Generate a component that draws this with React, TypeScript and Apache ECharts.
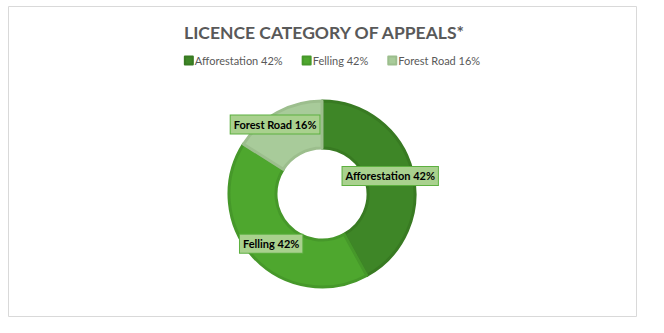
import React, { useEffect, useRef } from "react";
import * as echarts from "echarts";

const categories = ["Afforestation", "Felling", "Forest Road"];
const shares = [42, 42, 16];
const fillColors = ["#3E8627", "#4EA72E", "#A8CB9A"];
const edgeColors = ["#387A22", "#46982A", "#9CBE8D"];
const labelOffsets: [number, number][] = [
  [-2, 0],
  [2, 0],
  [-12, -6],
];

const FONT = "Lato, 'DejaVu Sans Condensed', sans-serif";

export default function App() {
  const ref = useRef<HTMLDivElement>(null);
  useEffect(() => {
    document.body.style.margin = "0";
    const chart = echarts.init(ref.current!, undefined, { renderer: "svg" });
    const data = categories.map((name, i) => ({
      name,
      value: shares[i],
      itemStyle: { color: fillColors[i], borderColor: edgeColors[i], borderWidth: 3 },
      label: { offset: labelOffsets[i] },
    }));
    chart.setOption({
      animation: false,
      backgroundColor: "#ffffff",
      graphic: [
        {
          type: "rect",
          shape: { x: 8.5, y: 6.5, width: 628, height: 310 },
          style: { fill: "none", stroke: "#D9D9D9", lineWidth: 1 },
          silent: true,
        },
      ],
      title: {
        text: "LICENCE CATEGORY OF APPEALS*",
        left: 319,
        textAlign: "center",
        top: 18,
        textStyle: { fontFamily: FONT, fontSize: 17.5, fontWeight: "bold", color: "#595959" },
      },
      legend: {
        top: 50,
        left: "center",
        itemWidth: 8,
        itemHeight: 8,
        itemGap: 19,
        icon: "rect",
        data: categories,
        formatter: (name: string) => `${name} ${shares[categories.indexOf(name)]}%`,
        textStyle: { fontFamily: FONT, fontSize: 11, color: "#595959", padding: [0, 0, 0, -3] },
      },
      series: [
        {
          type: "pie",
          center: [322, 194],
          radius: [46, 93],
          startAngle: 90,
          clockwise: true,
          data,
          label: {
            show: true,
            position: "inside",
            formatter: (p: any) => `${p.name} ${p.value}%`,
            fontFamily: FONT,
            fontSize: 11,
            fontWeight: "bold",
            color: "#000000",
            backgroundColor: "#A9D18E",
            borderColor: "#5DB040",
            borderWidth: 1,
            padding: [4, 3, 3, 3],
          },
          labelLine: { show: false },
          emphasis: { disabled: true },
        },
      ],
    });
    return () => chart.dispose();
  }, []);
  return <div ref={ref} style={{ width: 664, height: 333 }} />;
}
